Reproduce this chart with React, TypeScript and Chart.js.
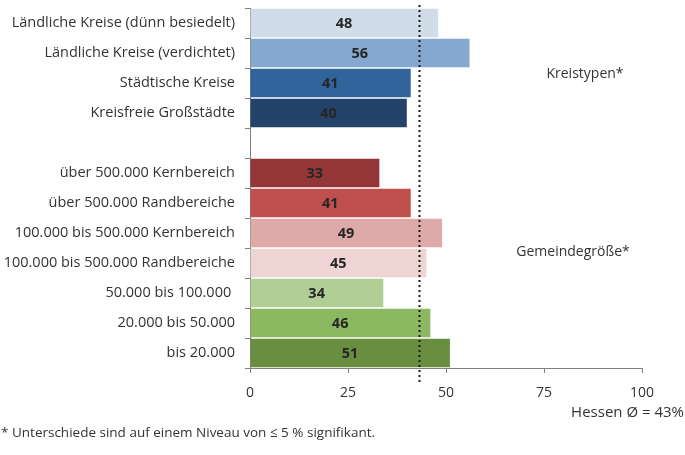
import React, { useEffect, useRef } from "react";
import { Chart, registerables } from "chart.js";

Chart.register(...registerables);

const categories: string[] = [
  "Ländliche Kreise (dünn besiedelt)",
  "Ländliche Kreise (verdichtet)",
  "Städtische Kreise",
  "Kreisfreie Großstädte",
  "",
  "über 500.000 Kernbereich",
  "über 500.000 Randbereiche",
  "100.000 bis 500.000 Kernbereich",
  "100.000 bis 500.000 Randbereiche",
  "50.000 bis 100.000 ",
  "20.000 bis 50.000",
  "bis 20.000",
];

const values: (number | null)[] = [48, 56, 41, 40, null, 33, 41, 49, 45, 34, 46, 51];

const barColors: string[] = [
  "#D0DCE8",
  "#84A8D0",
  "#31649A",
  "#24436A",
  "#FFFFFF",
  "#943637",
  "#C0504D",
  "#DDA9A9",
  "#EFD4D4",
  "#B1CE97",
  "#8CB862",
  "#6A8E40",
];

const xTicks: number[] = [0, 25, 50, 75, 100];
const hessenAverage = 43;
const groupLabels: string[] = ["Kreistypen*", "Gemeindegröße*"];
const avgLabel = "Hessen Ø = 43%";
const footnote = "* Unterschiede sind auf einem Niveau von ≤ 5 % signifikant.";

const FONT = "'Open Sans', Lato, sans-serif";
const TEXT = "#333333";

const overlayPlugin = {
  id: "overlay",
  afterDatasetsDraw(chart: any) {
    const ctx = chart.ctx;
    const xs = chart.scales.x;
    const meta = chart.getDatasetMeta(0);
    ctx.save();
    ctx.font = `bold 14.5px ${FONT}`;
    ctx.fillStyle = "#262626";
    ctx.textAlign = "center";
    ctx.textBaseline = "middle";
    meta.data.forEach((el: any, i: number) => {
      const v = values[i];
      if (v == null) return;
      const cx = (xs.getPixelForValue(0) + xs.getPixelForValue(v)) / 2;
      ctx.fillText(String(v), cx, el.y + 1);
    });
    ctx.restore();
  },
  afterDraw(chart: any) {
    const ctx = chart.ctx;
    const xs = chart.scales.x;
    const area = chart.chartArea;
    const px = Math.round(xs.getPixelForValue(hessenAverage)) + 0.5;
    ctx.save();
    ctx.strokeStyle = "#1a1a1a";
    ctx.lineWidth = 2;
    ctx.setLineDash([2, 3]);
    ctx.beginPath();
    ctx.moveTo(px, area.top - 3);
    ctx.lineTo(px, area.bottom + 15);
    ctx.stroke();
    ctx.setLineDash([]);

    ctx.font = `14px ${FONT}`;
    ctx.fillStyle = TEXT;
    ctx.textBaseline = "middle";
    ctx.textAlign = "center";
    ctx.fillText(groupLabels[0], 585, 74);
    ctx.fillText(groupLabels[1], 573, 252);
    ctx.textAlign = "right";
    ctx.font = `15px ${FONT}`;
    ctx.fillText(avgLabel, 684, 413);
    ctx.textAlign = "left";
    ctx.font = `13.5px ${FONT}`;
    ctx.fillText(footnote, 1, 433);
    ctx.restore();
  },
};

export default function App() {
  const ref = useRef<HTMLCanvasElement | null>(null);
  useEffect(() => {
    if (!ref.current) return;
    const chart = new Chart(ref.current, {
      type: "bar",
      data: {
        labels: categories,
        datasets: [
          {
            data: values as any,
            backgroundColor: barColors,
            borderWidth: 0,
            barPercentage: 0.95,
            categoryPercentage: 1,
          },
        ],
      },
      options: {
        indexAxis: "y",
        responsive: false,
        animation: false,
        devicePixelRatio: 1,
        layout: { padding: { top: 8, right: 43, left: 0, bottom: 0 } },
        plugins: {
          legend: { display: false },
          tooltip: { enabled: false },
        },
        scales: {
          x: {
            type: "linear",
            min: 0,
            max: 100,
            afterBuildTicks: (s: any) => {
              s.ticks = xTicks.map((v) => ({ value: v }));
            },
            afterFit: (s: any) => {
              s.height = 87;
            },
            grid: {
              drawOnChartArea: false,
              drawTicks: true,
              tickLength: 5,
              color: "#808080",
            },
            border: { display: true, color: "#808080", width: 1 },
            ticks: {
              font: { family: FONT, size: 14 },
              color: TEXT,
              padding: 12,
            },
          },
          y: {
            type: "category",
            afterFit: (s: any) => {
              s.width = 250;
              s.paddingTop = 0;
              s.paddingBottom = 0;
            },
            grid: {
              drawOnChartArea: false,
              drawTicks: true,
              tickLength: 5,
              offset: true,
              color: "#808080",
            },
            border: { display: true, color: "#808080", width: 1 },
            ticks: {
              font: { family: FONT, size: 14.5 },
              color: TEXT,
              padding: 10,
              autoSkip: false,
            },
          },
        },
      },
      plugins: [overlayPlugin],
    });
    return () => chart.destroy();
  }, []);
  return (
    <div style={{ position: "fixed", left: 0, top: 0, width: 685, height: 455, background: "#fff" }}>
      <canvas ref={ref} width={685} height={455} style={{ display: "block" }} />
    </div>
  );
}
